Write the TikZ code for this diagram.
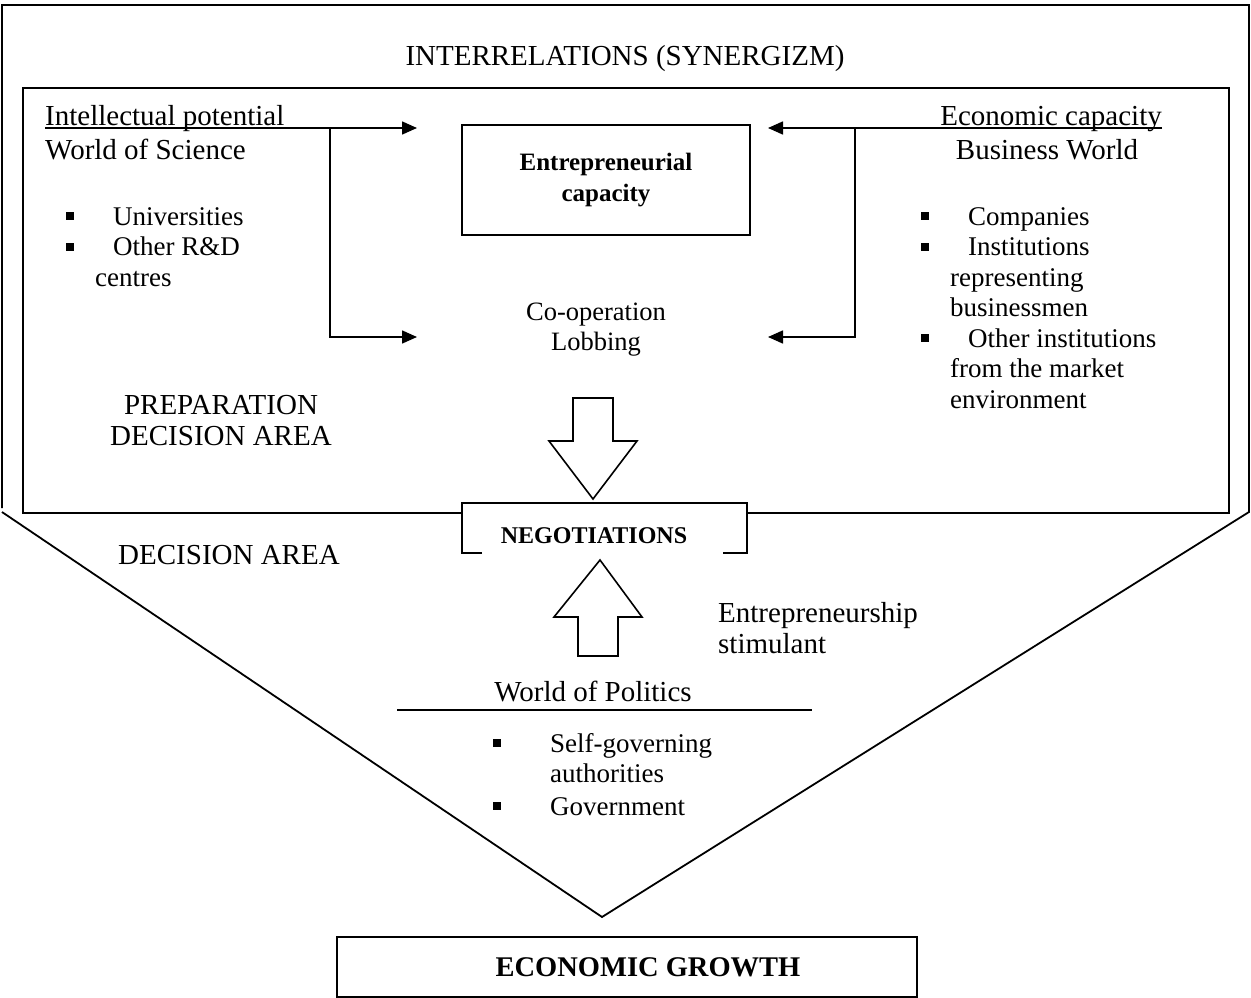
\documentclass[tikz,border=0pt]{standalone}
\usepackage{fontspec}
\setmainfont{Liberation Serif}
\usetikzlibrary{arrows.meta, positioning}

\newcommand{\sqb}{\rule[5pt]{8pt}{8pt}}

\begin{document}
\begin{tikzpicture}[x=1pt, y=-1pt,
    every node/.style={inner sep=0pt, font=\fontsize{29}{31}\selectfont},
    txt/.style={align=center},
    lst/.style={font=\fontsize{27}{30.5}\selectfont, align=left, anchor=north west},
    boldbox/.style={draw, line width=1.6pt, font=\bfseries\fontsize{25}{31}\selectfont, align=center},
    arr/.style={-{Triangle[length=15pt, width=13pt]}, line width=1.6pt},
    frame/.style={line width=1.8pt},
    block/.style={line width=1.6pt}
]
    \useasboundingbox (0,0) rectangle (1251,998);

    % Outer frame and decision area
    \draw[frame] (2,508) -- (2,5) -- (1249,5) -- (1249,512) -- (602,917) -- (2,512);

    % Preparation decision area
    \draw[frame] (462,513) -- (23,513) -- (23,88) -- (1229,88) -- (1229,513) -- (747,513);

    % Title
    \node[anchor=base] (title) at (625,66) {INTERRELATIONS (SYNERGIZM)};

    % World of Science
    \node[anchor=base west] (intel) at (45,125) {Intellectual potential};
    \node[anchor=base west] (sci) at (45,159) {World of Science};
    \node[lst] (scilist) at (66,207) {\sqb\hspace*{39pt}Universities\\ \sqb\hspace*{39pt}Other R\&D\\ \hspace*{29pt}centres};

    % Business World
    \node[anchor=base east] (econ) at (1162,125) {Economic capacity};
    \node[anchor=base] (bus) at (1047,159) {Business World};
    \node[lst] (buslist) at (921,207) {\sqb\hspace*{39pt}Companies\\ \sqb\hspace*{39pt}Institutions\\ \hspace*{29pt}representing\\ \hspace*{29pt}businessmen\\ \sqb\hspace*{39pt}Other institutions\\ \hspace*{29pt}from the market\\ \hspace*{29pt}environment};

    % Centre
    \node[boldbox, minimum width=288pt, minimum height=110pt] (entre) at (606,180) {Entrepreneurial\\capacity};
    \node[txt, font=\fontsize{26.5}{30}\selectfont] (coop) at (596,330) {Co-operation\\Lobbing};
    \node[txt] (prep) at (221,421) {PREPARATION\\DECISION AREA};
    \node[txt] (dec) at (229,555) {DECISION AREA};

    % Arrow ends
    \coordinate (sciFork) at (330,128);
    \coordinate (sciTop) at (417,128);
    \coordinate (sciLow) at (417,337);
    \coordinate (busFork) at (855,128);
    \coordinate (busTop) at (768,128);
    \coordinate (busLow) at (768,337);

    \draw[arr] ([yshift=-3pt]intel.base west) -- (sciTop);
    \draw[arr] (sciFork) |- (sciLow);
    \draw[arr] ([yshift=-3pt]econ.base east) -- (busTop);
    \draw[arr] (busFork) |- (busLow);

    % Negotiations
    \draw[block] (573,398) -- (613,398) -- (613,441) -- (637,441) -- (593,499) -- (549,441) -- (573,441) -- cycle;
    \node[font=\bfseries\fontsize{24}{28}\selectfont] (neg) at (594,536) {NEGOTIATIONS};
    \draw[frame] (482,553) -- (462,553) -- (462,503) -- (747,503) -- (747,553) -- (723,553);
    \draw[block] (578,656) -- (618,656) -- (618,617) -- (642,617) -- (600,560) -- (554,617) -- (578,617) -- cycle;
    \node[txt, align=left, anchor=west] (stim) at (718,628) {Entrepreneurship\\stimulant};

    % World of Politics
    \node[anchor=base] (pol) at (593,701) {World of Politics};
    \draw[frame] (397,710) -- (812,710);
    \node[lst] (pollist) at (493,733) {\sqb\hspace*{49pt}Self-governing\\ \hspace*{57pt}authorities\\[2pt] \sqb\hspace*{49pt}Government};

    % Result
    \node[draw, line width=1.6pt, minimum width=580pt, minimum height=60pt, font=\bfseries\fontsize{28.5}{31}\selectfont] (growth) at (627,967) {\hspace*{42pt}ECONOMIC GROWTH};
\end{tikzpicture}
\end{document}
